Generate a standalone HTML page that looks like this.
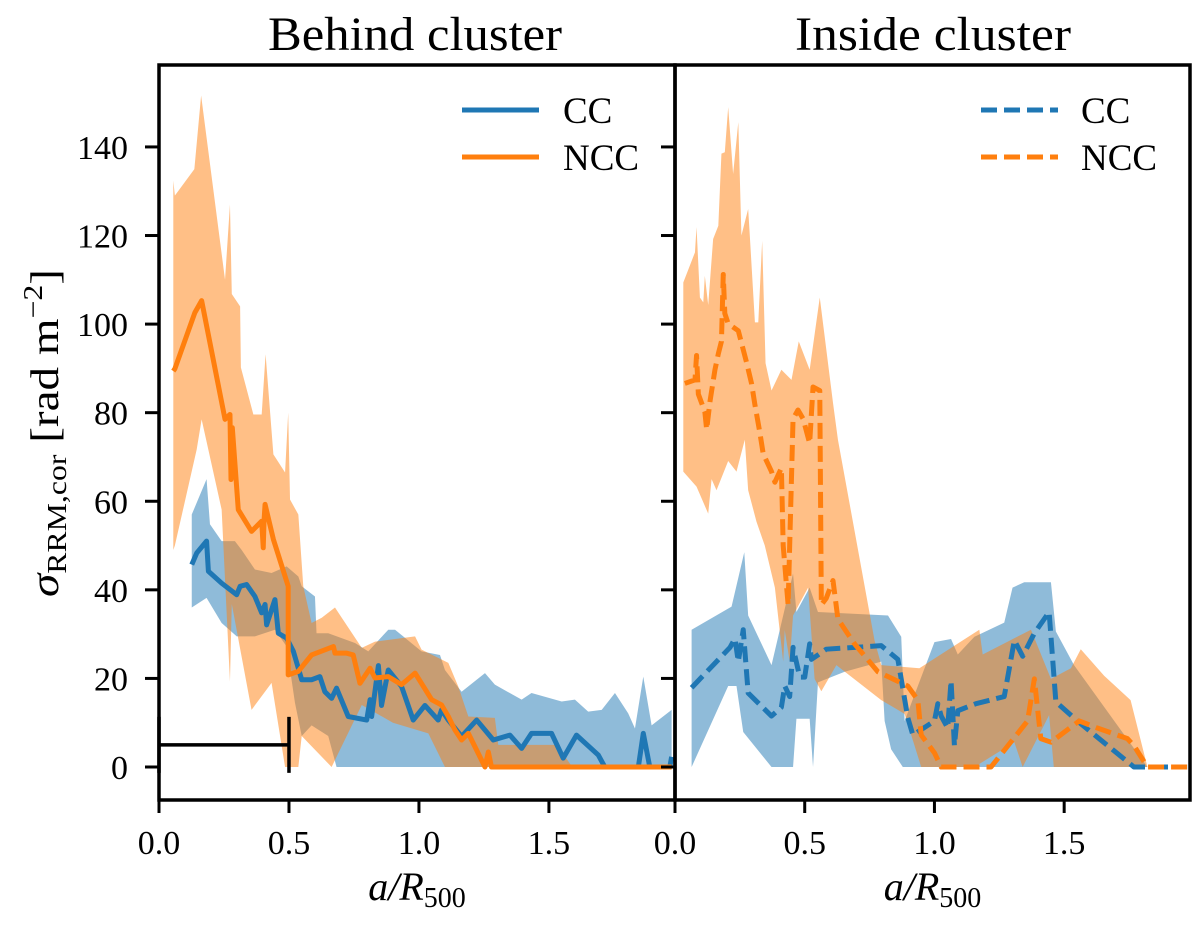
<!DOCTYPE html>
<html><head><meta charset="utf-8"><style>
html,body{margin:0;padding:0;background:#fff;}
svg{display:block;font-family:"Liberation Serif",serif;}
</style></head><body>
<svg id="chart" width="1200" height="925" viewBox="0 0 1200 925" xmlns="http://www.w3.org/2000/svg">
<g id="plot-layer"></g>
<g id="axes-layer"></g>
</svg>
<script>
// ---------- data: Behind cluster ----------
const behindCCx = [0.126,0.145,0.183,0.190,0.241,0.299,0.312,0.337,0.369,0.395,0.408,0.414,0.446,0.459,0.491,0.517,0.549,0.587,0.619,0.638,0.664,0.683,0.728,0.799,0.812,0.818,0.844,0.856,0.882,0.933,0.978,1.023,1.074,1.087,1.113,1.164,1.222,1.286,1.350,1.395,1.433,1.510,1.555,1.606,1.690,1.715,1.844,1.863,1.888,1.965,1.972];
const behindCCy = [45.7,48.3,51.0,44.2,41.5,38.9,40.8,41.2,38.5,34.8,36.7,32.1,37.8,30.2,29.1,26.1,19.7,19.7,20.4,17.0,15.5,17.8,11.4,10.6,15.2,11.4,22.9,13.9,21.9,18.2,10.6,13.9,10.6,12.9,10.6,6.9,10.6,6.1,7.2,4.2,7.6,7.6,2.0,7.2,2.7,0,0,7.6,0,0,2.3];
const behindCCupX = [0.126,0.183,0.196,0.241,0.292,0.318,0.369,0.433,0.491,0.536,0.549,0.600,0.606,0.651,0.754,0.805,0.882,0.908,1.010,1.081,1.100,1.164,1.254,1.292,1.395,1.433,1.549,1.600,1.651,1.703,1.754,1.805,1.831,1.863,1.895,1.972];
const behindCCup = [57,65,54.8,51,51,49,44.6,43.8,45.3,43,40.8,38.5,30.2,30.2,28,26.1,31,31,26.1,25.3,21.9,17,21.2,18.6,15.2,16.7,14.8,15.2,12.5,12.9,16.7,12.1,8.7,20.4,9.4,12.9];
const behindCCloX = [0.126,0.183,0.241,0.299,0.369,0.446,0.491,0.523,0.549,0.587,0.651,0.683,1.972];
const behindCClo = [36,38.2,32.5,29.5,29.5,31,27.2,14.5,7,9.4,7,0,0];
const behindNCCx = [0.055,0.061,0.138,0.164,0.254,0.273,0.277,0.282,0.305,0.356,0.395,0.401,0.404,0.408,0.440,0.497,0.497,0.536,0.587,0.671,0.677,0.722,0.747,0.773,0.812,0.831,0.882,0.933,0.985,1.049,1.087,1.113,1.138,1.164,1.190,1.254,1.267,1.279,1.972];
const behindNCCy = [89.4,89.9,102.6,105.3,78.5,79.6,64.9,76.6,58.1,53.2,55.5,49.5,55.5,59.3,51.4,40.8,20.8,21.6,25.3,27.2,25.7,25.7,25.3,18.9,22.3,20.1,20.4,18.6,21.2,15.2,14.0,11.4,8.4,6.1,7.6,0,3.4,0,0];
const behindNCCupX = [0.055,0.061,0.136,0.162,0.254,0.273,0.280,0.312,0.315,0.363,0.395,0.410,0.440,0.485,0.497,0.504,0.536,0.555,0.587,0.626,0.677,0.703,0.780,0.831,0.985,1.010,1.113,1.151,1.190,1.292,1.305,1.53,1.59,1.972];
const behindNCCup = [132.4,129,135,151.6,110,127,106.8,104,90.2,79.6,79.6,93.2,70.6,66.5,80,60.4,57,40.8,32.5,33.7,36,33.7,26.9,28.3,29.5,26.5,23.5,18.2,11.4,11.1,5,5,0,0];
const behindNCCloX = [0.055,0.061,0.145,0.164,0.241,0.273,0.280,0.356,0.433,0.485,0.536,0.549,0.664,0.780,0.900,1.036,1.100,1.972];
const behindNCClo = [49,50,71.7,78.5,58.1,19.3,36.8,12.9,19,0,0,7,0,14,10,7.6,0,0];
// ---------- data: Inside cluster ----------
const insideCCx = [0.064,0.212,0.231,0.244,0.263,0.282,0.372,0.410,0.423,0.442,0.455,0.481,0.500,0.519,0.526,0.583,0.795,0.859,0.897,0.917,1.000,1.013,1.026,1.051,1.064,1.077,1.090,1.160,1.269,1.308,1.340,1.385,1.442,1.468,1.551,1.769,1.974];
const insideCCy = [17.9,27,29,23.8,31,16.7,11.5,13.5,18.3,15.9,27,20.3,20.3,27.8,24.3,26.6,27.4,24.3,11.2,7.2,10.4,14.3,11.5,8.8,19.5,4.8,12.7,14.3,15.9,28.6,25,30.2,35,14.7,10.4,0,0];
const insideCCupX = [0.064,0.218,0.267,0.282,0.372,0.455,0.468,0.519,0.551,0.821,0.872,0.885,1.000,1.064,1.090,1.154,1.269,1.301,1.346,1.449,1.468,1.538,1.821,1.974];
const insideCCup = [31,36.2,48.5,34.2,23,43.7,35,40.5,35,34.2,29.4,10.4,28.2,28.9,25.4,29.4,32.6,40.5,41.7,41.7,30.6,23,0,0];
const insideCCloX = [0.064,0.205,0.237,0.263,0.372,0.455,0.468,0.519,0.532,0.551,0.654,0.795,0.808,0.833,0.878,1.974];
const insideCClo = [0,18.3,18.3,7.9,0,0,10.9,10.9,0,19.1,21.5,23.8,10.4,4,0,0];
const insideNCCx = [0.038,0.077,0.083,0.090,0.115,0.122,0.135,0.154,0.167,0.179,0.186,0.192,0.205,0.244,0.276,0.295,0.308,0.327,0.340,0.372,0.385,0.410,0.417,0.436,0.442,0.455,0.474,0.494,0.519,0.532,0.558,0.564,0.583,0.609,0.628,0.692,0.782,0.897,0.936,0.949,1.000,1.026,1.218,1.359,1.385,1.410,1.449,1.558,1.628,1.744,1.769,1.821,1.974];
const insideNCCy = [86.6,87.4,92.9,84.2,80.2,76.2,82.6,89.7,93.3,96.1,111.2,102.4,100.1,98.5,91.3,86.6,81.8,75.5,70.7,66.7,64.3,67.5,50,36.6,50,78.6,80.6,78.6,73.1,85.8,85,36.6,38.1,42.1,33.4,27.8,21.5,18.3,15.1,7.2,3.2,0,0,10.4,19.9,6.4,5.6,10.4,8.8,6.4,4.8,0,0];
const insideNCCupX = [0.032,0.077,0.083,0.096,0.109,0.115,0.128,0.147,0.167,0.179,0.192,0.205,0.224,0.244,0.256,0.282,0.288,0.308,0.321,0.336,0.349,0.372,0.410,0.449,0.477,0.519,0.558,0.609,0.628,0.769,0.795,0.942,1.173,1.186,1.372,1.449,1.526,1.564,1.654,1.756,1.821,1.974];
const insideNCCup = [109.4,116.2,121.9,106,104.9,110.9,104.3,119.2,122.2,138.5,138.8,149,133.9,145.6,120,126,120.3,100.4,100.4,118.8,91.2,85,89.7,87.4,96.1,89.7,106,82.2,73.9,28.6,23,22.3,31,25.4,31,19.9,22.3,26.6,20.6,15.1,0,0];
const insideNCCloX = [0.032,0.083,0.128,0.141,0.160,0.205,0.237,0.269,0.282,0.314,0.346,0.385,0.417,0.423,0.442,0.455,0.513,0.538,0.564,0.622,0.795,0.885,0.949,1.154,1.308,1.340,1.442,1.460,1.974];
const insideNCClo = [66.7,63.3,57.2,65,62.5,69.1,66.7,73.9,62.5,55.4,50,40.5,23.8,30.9,23.8,34.2,40.5,19.9,17.1,23,15.1,12,0,0,5.6,0,11.7,0,0];
// ---------- axes ----------
const xTicks = [0.0,0.5,1.0,1.5];
const xTickLabels = ["0.0","0.5","1.0","1.5"];
const yTicks = [0,20,40,60,80,100,120,140];
const yTickLabels = ["0","20","40","60","80","100","120","140"];
const errBarX = [0, 0.5];
const errBarY = 5;

const BLUE="#1f77b4", ORANGE="#ff7f0e";
const TOP=65, BOT=800, XMAX=1.985, YMIN=-7.45, YMAX=158.5;
const panels=[{x0:159,x1:675},{x0:675,x1:1190}];
function sx(p,v){return panels[p].x0+(v/XMAX)*(panels[p].x1-panels[p].x0);}
function sy(v){return BOT-(v-YMIN)/(YMAX-YMIN)*(BOT-TOP);}
const NS="http://www.w3.org/2000/svg";
const plot=document.getElementById('plot-layer');
const axes=document.getElementById('axes-layer');
function mk(tag,parent,attrs){const e=document.createElementNS(NS,tag);for(const k in attrs)e.setAttribute(k,attrs[k]);parent.appendChild(e);return e;}

const defs=mk('defs',document.getElementById('chart'),{});
panels.forEach((pn,i)=>{const c=mk('clipPath',defs,{id:'clip'+i});mk('rect',c,{x:pn.x0,y:TOP,width:pn.x1-pn.x0,height:BOT-TOP});});

function band(p,ux,uy,lx,ly,color,name){
  let pts=ux.map((v,i)=>sx(p,v)+','+sy(uy[i]));
  for(let i=lx.length-1;i>=0;i--)pts.push(sx(p,lx[i])+','+sy(ly[i]));
  const e=mk('polygon',plot,{points:pts.join(' '),fill:color,'fill-opacity':0.5,'clip-path':'url(#clip'+p+')'});
  
  
}
function line(p,xs,ys,color,dash,name){
  const pts=xs.map((v,i)=>sx(p,v)+','+sy(ys[i])).join(' ');
  const e=mk('polyline',plot,{points:pts,fill:'none',stroke:color,'stroke-width':5,'stroke-linejoin':'round','clip-path':'url(#clip'+p+')'});
  if(dash)e.setAttribute('stroke-dasharray','16,7');
  
  
}
band(0,behindCCupX,behindCCup,behindCCloX,behindCClo,BLUE,'behind-cc-band');
band(0,behindNCCupX,behindNCCup,behindNCCloX,behindNCClo,ORANGE,'behind-ncc-band');
line(0,behindCCx,behindCCy,BLUE,false,'behind-cc-line');
line(0,behindNCCx,behindNCCy,ORANGE,false,'behind-ncc-line');
band(1,insideCCupX,insideCCup,insideCCloX,insideCClo,BLUE,'inside-cc-band');
band(1,insideNCCupX,insideNCCup,insideNCCloX,insideNCClo,ORANGE,'inside-ncc-band');
line(1,insideCCx,insideCCy,BLUE,true,'inside-cc-line');
line(1,insideNCCx,insideNCCy,ORANGE,true,'inside-ncc-line');

const eb=mk('g',plot,{stroke:'#000','stroke-width':3.5});


mk('line',eb,{x1:sx(0,errBarX[0]),x2:sx(0,errBarX[1]),y1:sy(errBarY),y2:sy(errBarY)});
mk('line',eb,{x1:sx(0,errBarX[0]),x2:sx(0,errBarX[0]),y1:sy(errBarY)-28,y2:sy(errBarY)+28});
mk('line',eb,{x1:sx(0,errBarX[1]),x2:sx(0,errBarX[1]),y1:sy(errBarY)-28,y2:sy(errBarY)+28});

panels.forEach((pn,i)=>{
  const r=mk('rect',axes,{x:pn.x0,y:TOP,width:pn.x1-pn.x0,height:BOT-TOP,fill:'none',stroke:'#000','stroke-width':3.5});
  
  
  xTicks.forEach((t,j)=>{
    const X=sx(i,t);
    mk('line',axes,{x1:X,x2:X,y1:BOT,y2:BOT+13,stroke:'#000','stroke-width':3});
    const tx=mk('text',axes,{x:X,y:854,'text-anchor':'middle','font-size':34});
    tx.textContent=xTickLabels[j];
    
    
  });
  const xl=mk('text',axes,{x:(pn.x0+pn.x1)/2,y:900,'text-anchor':'middle','font-size':40,'font-style':'italic'});
  xl.innerHTML='a/R<tspan font-size="28" font-style="normal" dy="7">500</tspan>';
  
  
});
yTicks.forEach((t,j)=>{
  const Y=sy(t);
  mk('line',axes,{x1:145,x2:159,y1:Y,y2:Y,stroke:'#000','stroke-width':3});
  mk('line',axes,{x1:661,x2:675,y1:Y,y2:Y,stroke:'#000','stroke-width':3});
  const tx=mk('text',axes,{x:128,y:Y+12,'text-anchor':'end','font-size':34});
  tx.textContent=yTickLabels[j];
  
  
});
</script>
<svg style="position:absolute;left:0;top:0" width="1200" height="925" xmlns="http://www.w3.org/2000/svg">
<text x="415" y="50" text-anchor="middle" font-size="48" textLength="294" lengthAdjust="spacingAndGlyphs" font-family="Liberation Serif, serif">Behind cluster</text>
<text x="933" y="50" text-anchor="middle" font-size="48" textLength="276" lengthAdjust="spacingAndGlyphs" font-family="Liberation Serif, serif">Inside cluster</text>
<g transform="translate(58,433) rotate(-90)" font-family="Liberation Serif, serif">
<text x="0" y="0" text-anchor="middle" font-size="40" textLength="328" lengthAdjust="spacingAndGlyphs"><tspan font-style="italic">σ</tspan><tspan font-size="27" dy="8">RRM,cor</tspan><tspan dy="-8"> [rad m</tspan><tspan font-size="27" dy="-16">−2</tspan><tspan dy="16">]</tspan></text>
</g>
<g font-family="Liberation Serif, serif" font-size="37">
<line x1="462" y1="110" x2="539" y2="110" stroke="#1f77b4" stroke-width="5"/>
<text x="563" y="123">CC</text>
<line x1="462" y1="157" x2="539" y2="157" stroke="#ff7f0e" stroke-width="5"/>
<text x="563" y="170">NCC</text>
</g>
<g font-family="Liberation Serif, serif" font-size="37">
<line x1="981" y1="110" x2="1058" y2="110" stroke="#1f77b4" stroke-width="5" stroke-dasharray="16,7"/>
<text x="1081" y="123">CC</text>
<line x1="981" y1="157" x2="1058" y2="157" stroke="#ff7f0e" stroke-width="5" stroke-dasharray="16,7"/>
<text x="1081" y="170">NCC</text>
</g>
</svg>
</body></html>
